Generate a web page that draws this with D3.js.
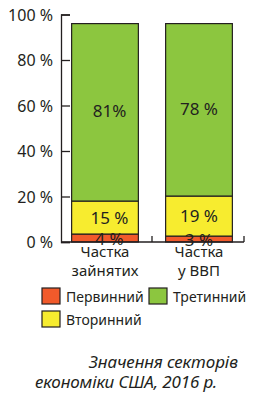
<!DOCTYPE html>
<html>
<head>
<meta charset="utf-8">
<script src="https://cdn.jsdelivr.net/npm/d3@7"></script>
<style>
  body { margin: 0; background: #fff; }
  text { font-family: "Noto Sans", sans-serif; fill: #231f20; }
</style>
</head>
<body>
<div class="vis"></div>
<script>
// categories and sectors
const categories = [["Частка", "зайнятих"], ["Частка", "у ВВП"]];
const sectors = ["Первинний", "Вторинний", "Третинний"];
// drawn segment heights and printed labels
const primary = [3.5, 2.6];
const secondary = [14.5, 17.6];
const tertiary = [78, 75.8];
const primaryLabels = ["4 %", "3 %"];
const secondaryLabels = ["15 %", "19 %"];
const tertiaryLabels = ["81%", "78 %"];
const yTicks = [0, 20, 40, 60, 80, 100];
const colors = ["#f15a2b", "#f7ec2f", "#8cc63f"];

const width = 275, height = 399;
const svg = d3.select(".vis").append("svg")
	.attr("width", width)
	.attr("height", height);

const x = d3.scaleBand()
	.domain(d3.range(categories.length))
	.range([58, 246])
	.paddingInner(0.29)
	.paddingOuter(0.145);

const y = d3.scaleLinear()
	.domain([0, 100])
	.range([242, 14.5]);

// stack the segments
const rows = categories.map((c, i) => ({i: i, p: primary[i], s: secondary[i], t: tertiary[i]}));
const stack = d3.stack().keys(["p", "s", "t"])(rows);
const labels = [primaryLabels, secondaryLabels, tertiaryLabels];

// bars
stack.forEach((layer, k) => {
	svg.append("g").selectAll("rect")
		.data(layer)
		.enter()
		.append("rect")
		.attr("x", d => x(d.data.i))
		.attr("y", d => y(d[1]))
		.attr("width", x.bandwidth())
		.attr("height", d => y(d[0]) - y(d[1]))
		.attr("fill", colors[k])
		.attr("stroke", "#231f20")
		.attr("stroke-width", 1.2);
});

// value labels
const labelOffsetX = [4.5, 0];
const labelDy = [7, 6, 5];
stack.forEach((layer, k) => {
	svg.append("g").selectAll("text")
		.data(layer)
		.enter()
		.append("text")
		.attr("x", d => x(d.data.i) + x.bandwidth() / 2 + labelOffsetX[d.data.i])
		.attr("y", d => (y(d[0]) + y(d[1])) / 2 + labelDy[k])
		.attr("text-anchor", "middle")
		.style("font-size", "17px")
		.text((d, i) => labels[k][i]);
});

// y axis (ticks pointing inward)
const yAxis = svg.append("g")
	.attr("transform", "translate(61,0)")
	.call(d3.axisRight(y).tickValues(yTicks).tickSize(9).tickFormat(d => d + " %"));
yAxis.select(".domain").attr("stroke", "#231f20").attr("stroke-width", 1.3);
yAxis.selectAll(".tick line").attr("stroke", "#231f20").attr("stroke-width", 1.3);
yAxis.selectAll(".tick text")
	.attr("x", -8)
	.attr("dy", "0.36em")
	.attr("text-anchor", "end")
	.style("font-size", "16px")
	.style("font-family", "Noto Sans")
	.attr("fill", "#231f20");

// x axis baseline with upward ticks between categories
svg.append("line")
	.attr("x1", 61).attr("x2", 244)
	.attr("y1", y(0)).attr("y2", y(0))
	.attr("stroke", "#231f20").attr("stroke-width", 1.3);
svg.append("g").selectAll("line")
	.data(d3.range(categories.length))
	.enter()
	.append("line")
	.attr("x1", d => Math.min(x(d) + x.bandwidth() + x.step() * x.paddingInner() / 2, 244))
	.attr("x2", d => Math.min(x(d) + x.bandwidth() + x.step() * x.paddingInner() / 2, 244))
	.attr("y1", y(0)).attr("y2", y(0) - 6)
	.attr("stroke", "#231f20").attr("stroke-width", 1.3);

// category labels
categories.forEach((c, i) => {
	svg.append("text")
		.attr("x", x(i) + x.bandwidth() / 2)
		.attr("y", 257)
		.attr("text-anchor", "middle")
		.style("font-size", "15px")
		.selectAll("tspan")
		.data(c)
		.enter()
		.append("tspan")
		.attr("x", x(i) + x.bandwidth() / 2)
		.attr("dy", (d, j) => j === 0 ? 0 : 19)
		.text(d => d);
});

// legend
const legendPos = [[42, 288], [42, 311], [149, 288]];
const legend = svg.append("g").selectAll("g")
	.data(sectors)
	.enter()
	.append("g")
	.attr("transform", (d, i) => "translate(" + legendPos[i][0] + "," + legendPos[i][1] + ")");
legend.append("rect")
	.attr("width", 18).attr("height", 16)
	.attr("fill", (d, i) => colors[i])
	.attr("stroke", "#231f20").attr("stroke-width", 1.2);
legend.append("text")
	.attr("x", 24).attr("y", 13.5)
	.style("font-size", "14px")
	.text(d => d);

// caption (spaced out like the original)
svg.append("text")
	.attr("x", 89).attr("y", 368)
	.attr("textLength", 149).attr("lengthAdjust", "spacing")
	.style("font-size", "17px").style("font-style", "italic")
	.text("Значення секторів");
svg.append("text")
	.attr("x", 35).attr("y", 388)
	.attr("textLength", 182).attr("lengthAdjust", "spacing")
	.style("font-size", "17px").style("font-style", "italic")
	.text("економіки США, 2016 р.");
</script>
</body>
</html>
